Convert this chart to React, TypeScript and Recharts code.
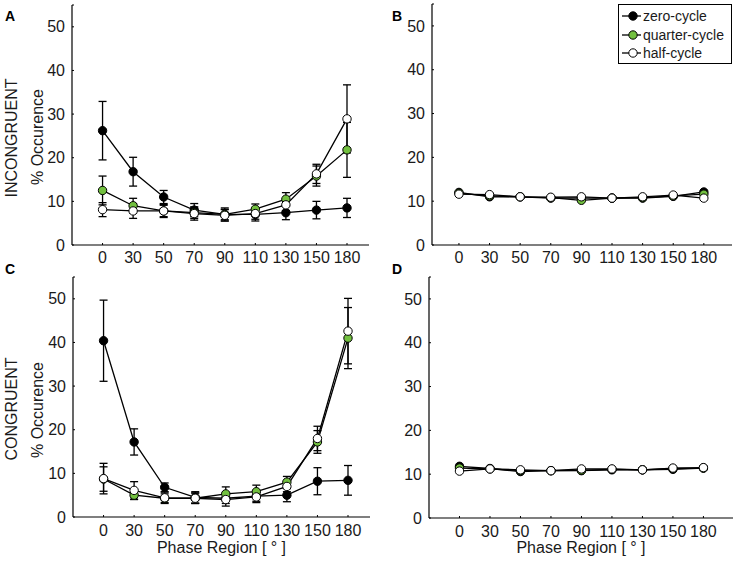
import React from 'react';
import { LineChart, Line, XAxis, YAxis, ErrorBar, Label } from 'recharts';

const phaseLabels = ['0', '30', '50', '70', '90', '110', '130', '150', '180'];
const yTicks = [0, 10, 20, 30, 40, 50, 55];

// Panel A: INCONGRUENT, condition 1
const incZeroA = [26.2, 16.8, 11.0, 8.0, 7.0, 7.0, 7.4, 8.0, 8.5];
const incZeroErrA = [6.7, 3.3, 1.5, 1.5, 1.5, 1.5, 1.6, 2.0, 2.2];
const incQuarterA = [12.5, 9.0, 7.8, 7.4, 7.0, 8.2, 10.5, 15.8, 21.8];
const incQuarterErrA = [3.3, 1.7, 1.3, 1.3, 1.2, 1.2, 1.5, 2.3, 6.3];
const incHalfA = [8.1, 7.8, 7.8, 7.2, 6.8, 7.2, 9.2, 16.3, 28.9];
const incHalfErrA = [1.6, 1.7, 1.5, 1.5, 1.3, 1.3, 1.3, 2.2, 7.8];

// Panel B: INCONGRUENT, condition 2
const incZeroB = [12.0, 11.0, 11.0, 10.7, 10.7, 10.7, 10.7, 11.1, 12.1];
const incQuarterB = [11.8, 11.2, 11.0, 10.8, 10.2, 10.7, 10.8, 11.2, 11.6];
const incHalfB = [11.6, 11.5, 11.0, 10.9, 11.0, 10.7, 11.0, 11.4, 10.7];

// Panel C: CONGRUENT, condition 1
const conZeroC = [40.4, 17.2, 6.8, 4.5, 4.3, 4.8, 5.0, 8.2, 8.4];
const conZeroErrC = [9.3, 3.0, 1.0, 1.3, 1.2, 1.2, 1.5, 3.1, 3.4];
const conQuarterC = [8.7, 5.0, 4.3, 4.3, 5.3, 5.8, 8.0, 17.2, 41.0];
const conQuarterErrC = [2.8, 1.0, 1.0, 1.2, 1.6, 1.5, 1.3, 2.6, 7.0];
const conHalfC = [8.8, 6.1, 4.4, 4.3, 4.0, 4.6, 7.0, 18.0, 42.6];
const conHalfErrC = [3.5, 2.0, 1.3, 1.2, 1.5, 1.3, 1.2, 2.8, 7.5];

// Panel D: CONGRUENT, condition 2
const conZeroD = [11.8, 11.3, 10.6, 10.8, 10.8, 11.0, 11.0, 11.1, 11.4];
const conQuarterD = [11.4, 11.2, 10.8, 10.8, 10.9, 11.1, 11.0, 11.3, 11.4];
const conHalfD = [10.7, 11.2, 11.0, 10.8, 11.2, 11.2, 11.0, 11.4, 11.5];

const seriesNames = ['zero-cycle', 'quarter-cycle', 'half-cycle'];
const seriesFill = ['#000000', '#72c03f', '#ffffff'];

const FONT = '"Liberation Sans", Arial, Helvetica, sans-serif';
const TXT = '#1a1a1a';

type Row = { i: number; z: number; q: number; h: number; ze?: number; qe?: number; he?: number };

function build(z: number[], q: number[], h: number[], ze?: number[], qe?: number[], he?: number[]): Row[] {
  return phaseLabels.map((_, i) => ({
    i,
    z: z[i],
    q: q[i],
    h: h[i],
    ze: ze ? ze[i] : undefined,
    qe: qe ? qe[i] : undefined,
    he: he ? he[i] : undefined,
  }));
}

const dataA = build(incZeroA, incQuarterA, incHalfA, incZeroErrA, incQuarterErrA, incHalfErrA);
const dataB = build(incZeroB, incQuarterB, incHalfB);
const dataC = build(conZeroC, conQuarterC, conHalfC, conZeroErrC, conQuarterErrC, conHalfErrC);
const dataD = build(conZeroD, conQuarterD, conHalfD);

type PanelProps = {
  data: Row[];
  left: number;
  top: number;
  width: number;
  height: number;
  margin: { top: number; right: number; left: number; bottom: number };
  yWidth: number;
  xHeight: number;
  xDomain: [number, number];
  tickMargin: number;
  errors: boolean;
  xLabel?: string;
};

function Panel(p: PanelProps) {
  const keys: Array<['z' | 'q' | 'h', 'ze' | 'qe' | 'he']> = [
    ['z', 'ze'],
    ['q', 'qe'],
    ['h', 'he'],
  ];
  const tickStyle = { fontSize: 16, fill: TXT, fontFamily: FONT };
  return (
    <div style={{ position: 'absolute', left: p.left, top: p.top }}>
      <LineChart width={p.width} height={p.height} data={p.data} margin={p.margin}>
        <XAxis
          dataKey="i"
          type="number"
          domain={p.xDomain}
          ticks={[0, 1, 2, 3, 4, 5, 6, 7, 8]}
          tickFormatter={(v: number) => phaseLabels[v] ?? ''}
          allowDataOverflow
          height={p.xHeight}
          tickSize={-2}
          tickMargin={p.tickMargin}
          tick={tickStyle}
          axisLine={{ stroke: '#000', strokeWidth: 1.2 }}
          tickLine={{ stroke: '#000' }}
          interval={0}
        >
          {p.xLabel ? (
            <Label
              value={p.xLabel}
              position="insideBottom"
              offset={9}
              style={{ fontSize: 16, fill: TXT, fontFamily: FONT }}
            />
          ) : null}
        </XAxis>
        <YAxis
          type="number"
          domain={[0, 55]}
          ticks={yTicks}
          tickFormatter={(v: number) => (v === 55 ? '' : String(v))}
          allowDataOverflow
          width={p.yWidth}
          tickSize={-2}
          tickMargin={9}
          tick={tickStyle}
          axisLine={{ stroke: '#000', strokeWidth: 1.2 }}
          tickLine={{ stroke: '#000' }}
          interval={0}
        />
        {keys.map(([k, e], idx) => (
          <Line
            key={k}
            type="linear"
            dataKey={k}
            name={seriesNames[idx]}
            stroke="#000"
            strokeWidth={1.3}
            dot={{ r: 4.2, fill: seriesFill[idx], stroke: '#000', strokeWidth: 1 }}
            isAnimationActive={false}
          >
            {p.errors ? (
              <ErrorBar dataKey={e} direction="y" width={4} stroke="#000" strokeWidth={1.3} />
            ) : null}
          </Line>
        ))}
      </LineChart>
    </div>
  );
}

function VText({ text, cx, cy, size }: { text: string; cx: number; cy: number; size: number }) {
  return (
    <div
      style={{
        position: 'absolute',
        left: cx,
        top: cy,
        transform: 'translate(-50%, -50%) rotate(-90deg)',
        whiteSpace: 'nowrap',
        fontSize: size,
        fontFamily: FONT,
        color: TXT,
        lineHeight: 1,
      }}
    >
      {text}
    </div>
  );
}

function PanelLetter({ t, x, y }: { t: string; x: number; y: number }) {
  return (
    <div
      style={{
        position: 'absolute',
        left: x,
        top: y,
        fontSize: 14,
        fontWeight: 'bold',
        fontFamily: FONT,
        color: '#000',
        lineHeight: 1,
      }}
    >
      {t}
    </div>
  );
}

function LegendBox() {
  const rows = [15, 33.5, 52];
  return (
    <div
      style={{
        position: 'absolute',
        left: 618,
        top: 4,
        width: 114,
        height: 60,
        border: '1px solid #000',
        background: '#fff',
        boxSizing: 'border-box',
      }}
    >
      {seriesNames.map((n, i) => (
        <div key={n} style={{ position: 'absolute', left: 0, top: rows[i] - 4 - 9, height: 18, display: 'flex', alignItems: 'center' }}>
          <svg width={24} height={18} style={{ display: 'block' }}>
            <line x1={3} y1={9} x2={22} y2={9} stroke="#000" strokeWidth={1.3} />
            <circle cx={14} cy={9} r={4.2} fill={seriesFill[i]} stroke="#000" strokeWidth={1} />
          </svg>
          <span style={{ fontSize: 14, fontFamily: FONT, color: TXT, whiteSpace: 'nowrap' }}>{n}</span>
        </div>
      ))}
    </div>
  );
}

export default function App() {
  return (
    <div
      style={{
        position: 'absolute',
        left: 0,
        top: 0,
        width: 737,
        height: 562,
        background: '#fff',
        overflow: 'hidden',
        fontFamily: FONT,
      }}
    >
      <Panel
        data={dataA}
        left={0}
        top={0}
        width={370}
        height={270}
        margin={{ top: 5, right: 1, left: 0, bottom: 0 }}
        yWidth={72}
        xHeight={25}
        xDomain={[-1, 8.72]}
        tickMargin={9}
        errors
      />
      <Panel
        data={dataB}
        left={370}
        top={0}
        width={367}
        height={270}
        margin={{ top: 4, right: 5, left: 0, bottom: 0 }}
        yWidth={62}
        xHeight={25}
        xDomain={[-0.88, 8.92]}
        tickMargin={9}
        errors={false}
      />
      <Panel
        data={dataC}
        left={0}
        top={270}
        width={370}
        height={292}
        margin={{ top: 7, right: 0, left: 0, bottom: 0 }}
        yWidth={73}
        xHeight={45}
        xDomain={[-1, 8.72]}
        tickMargin={10}
        errors
        xLabel="Phase Region [ ° ]"
      />
      <Panel
        data={dataD}
        left={370}
        top={270}
        width={367}
        height={292}
        margin={{ top: 7, right: 4, left: 0, bottom: 0 }}
        yWidth={59}
        xHeight={44}
        xDomain={[-1, 8.97]}
        tickMargin={10}
        errors={false}
        xLabel="Phase Region [ ° ]"
      />
      <VText text="INCONGRUENT" cx={12} cy={138} size={16} />
      <VText text="% Occurence" cx={37.5} cy={137} size={16} />
      <VText text="CONGRUENT" cx={12} cy={409} size={16} />
      <VText text="% Occurence" cx={37.5} cy={410} size={16} />
      <PanelLetter t="A" x={5} y={9} />
      <PanelLetter t="B" x={392} y={9} />
      <PanelLetter t="C" x={5} y={262} />
      <PanelLetter t="D" x={392} y={262} />
      <LegendBox />
    </div>
  );
}
